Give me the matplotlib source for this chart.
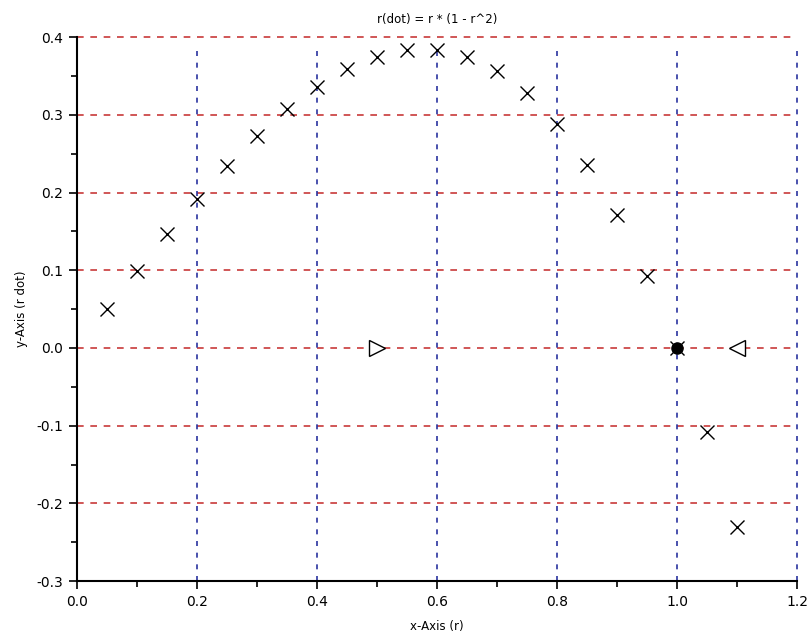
import matplotlib
matplotlib.use("Agg")
import matplotlib.pyplot as plt
from matplotlib.ticker import MultipleLocator

r = [0.05, 0.10, 0.15, 0.20, 0.25, 0.30, 0.35, 0.40, 0.45, 0.50, 0.55,
     0.60, 0.65, 0.70, 0.75, 0.80, 0.85, 0.90, 0.95, 1.00, 1.05, 1.10]
rdot = [0.050, 0.099, 0.147, 0.192, 0.234, 0.273, 0.307, 0.336, 0.359, 0.375, 0.384,
        0.384, 0.375, 0.357, 0.328, 0.288, 0.236, 0.171, 0.093, 0.000, -0.108, -0.231]
unstable_x = [0.5]
stable_x = [1.0]
left_arrow_x = [1.1]
xticks = [0.0, 0.2, 0.4, 0.6, 0.8, 1.0, 1.2]
yticks = [-0.3, -0.2, -0.1, 0.0, 0.1, 0.2, 0.3, 0.4]

fig = plt.figure(figsize=(8.11, 6.4), dpi=100)
ax = fig.add_axes([0.095, 0.092, 0.888, 0.850])

for y in yticks[1:]:
    ax.axhline(y, color="#c83a3a", linestyle=(0, (4, 4)), linewidth=1.2, zorder=1, clip_on=False)
for x in xticks[1:]:
    ax.axvline(x, ymax=0.985, color="#2a33a0", linestyle=(0, (3, 4)), linewidth=1.2, zorder=1, clip_on=False)

ax.plot(r, rdot, linestyle="none", marker="x", color="black", markersize=10, markeredgewidth=1.0, zorder=3)
ax.plot(unstable_x, [0.0], linestyle="none", marker=">", markerfacecolor="white",
        markeredgecolor="black", markersize=11, zorder=4)
ax.plot(stable_x, [0.0], linestyle="none", marker="o", color="black", markersize=8, zorder=4)
ax.plot(left_arrow_x, [0.0], linestyle="none", marker="<", markerfacecolor="white",
        markeredgecolor="black", markersize=11, zorder=4)

ax.set_xlim(0, 1.2)
ax.set_ylim(-0.3, 0.4)
ax.set_xticks(xticks)
ax.set_yticks(yticks)
ax.set_xticklabels([f"{v:.1f}" for v in xticks])
ax.set_yticklabels([f"{v:.1f}" for v in yticks])
ax.xaxis.set_minor_locator(MultipleLocator(0.1))
ax.yaxis.set_minor_locator(MultipleLocator(0.05))
ax.tick_params(axis="both", which="major", direction="out", length=6, width=1.2,
               labelsize=10, colors="black", pad=4)
ax.tick_params(axis="both", which="minor", direction="out", length=4, width=1.2)
ax.spines["top"].set_visible(False)
ax.spines["right"].set_visible(False)
ax.spines["left"].set_linewidth(1.5)
ax.spines["bottom"].set_linewidth(1.5)

ax.set_title("r(dot) = r * (1 - r^2)", fontsize=8.5, pad=10)
ax.set_xlabel("x-Axis (r)", fontsize=8.5, labelpad=8)
ax.set_ylabel("y-Axis (r dot)", fontsize=8.5, labelpad=6)

fig.savefig("out.png", dpi=100)
